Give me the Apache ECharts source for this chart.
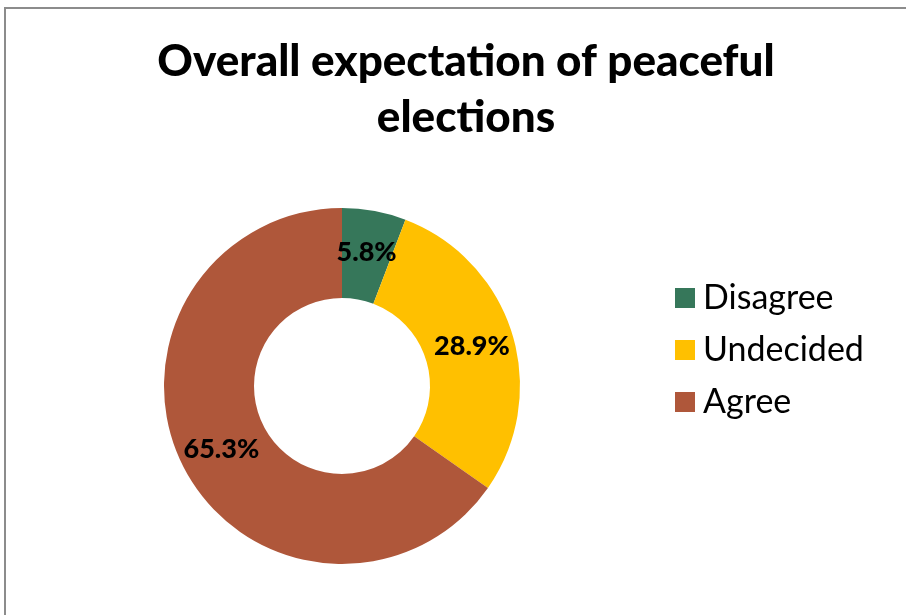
<!DOCTYPE html>
<html>
<head>
<meta charset="utf-8">
<script src="https://cdn.jsdelivr.net/npm/echarts@6/dist/echarts.min.js"></script>
<style>
  html, body { margin: 0; padding: 0; background: #fff; }
  #chart { width: 906px; height: 615px; }
</style>
</head>
<body>
<div id="chart"></div>
<script>
// Survey answers and their shares (percent)
const categories = ['Disagree', 'Undecided', 'Agree'];
const shares = [5.8, 28.9, 65.3];
const colors = ['#36775A', '#FFC000', '#AF573A'];

const FONT = 'Lato, "Open Sans", sans-serif';

const chart = echarts.init(document.getElementById('chart'), null, { renderer: 'canvas' });

chart.setOption({
  backgroundColor: '#ffffff',
  animation: false,
  title: {
    text: 'Overall expectation of peaceful\nelections',
    left: 461,
    top: 29,
    textAlign: 'center',
    textStyle: {
      fontFamily: FONT,
      fontWeight: 900,
      fontSize: 44,
      lineHeight: 56,
      color: '#000'
    }
  },
  legend: {
    orient: 'vertical',
    left: 670,
    top: 276,
    itemWidth: 20,
    itemHeight: 20,
    itemGap: 18,
    icon: 'rect',
    textStyle: {
      fontFamily: FONT,
      fontSize: 34,
      lineHeight: 34,
      color: '#000',
      padding: [0, 0, 0, 3]
    },
    data: categories
  },
  graphic: [{
    type: 'rect',
    shape: { x: 5, y: 8, width: 1000, height: 700 },
    style: { fill: 'none', stroke: '#8c8c8c', lineWidth: 2 },
    silent: true
  }],
  series: [{
    type: 'pie',
    center: [342, 386],
    radius: [88, 178],
    startAngle: 90,
    clockwise: true,
    avoidLabelOverlap: false,
    label: {
      show: true,
      position: 'inside',
      formatter: p => p.value.toFixed(1) + '%',
      fontFamily: FONT,
      fontWeight: 900,
      fontSize: 27,
      color: '#000',
      textBorderWidth: 0
    },
    labelLine: { show: false },
    itemStyle: { borderWidth: 0 },
    emphasis: { disabled: true },
    data: categories.map((name, i) => ({
      name,
      value: shares[i],
      itemStyle: { color: colors[i] }
    }))
  }]
});
</script>
</body>
</html>
